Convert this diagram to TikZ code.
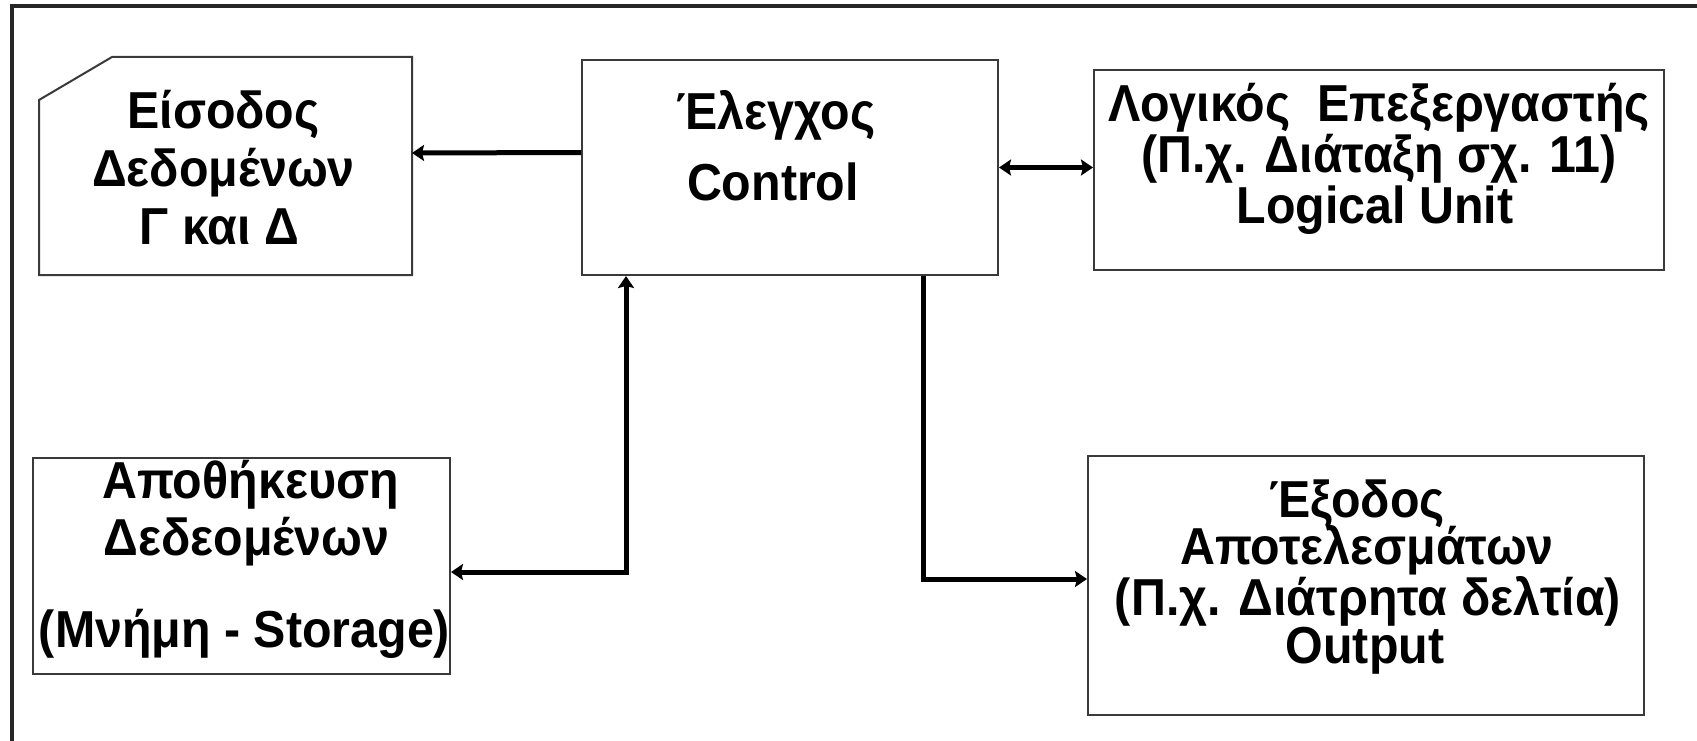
\documentclass[tikz,border=0pt]{standalone}
\usepackage{fontspec}
\setmainfont{Liberation Sans}[FakeStretch=0.93]
\usetikzlibrary{arrows.meta,calc}
\definecolor{boxgray}{HTML}{3A3A3A}
\begin{document}
\begin{tikzpicture}[x=1pt,y=-1pt,
  box/.style={draw=boxgray, line width=2pt, inner sep=0pt, anchor=north west},
  txt/.style={anchor=base, inner sep=0pt, text=black, font=\bfseries\fontsize{52}{60}\selectfont},
  tip/.tip={Stealth[length=12pt,width=16pt,inset=2pt]},
  conn/.style={line width=5pt, draw=black},
]
\useasboundingbox (0,0) rectangle (1697,741);
\fill[white] (-20,-20) rectangle (1720,760);

% outer frame (top and left rules)
\draw[line width=3.5pt, draw=black!85] (1720,6) -- (12,6) -- (12,760);

% blocks
\node[box, draw=none, minimum width=371pt, minimum height=216pt] (in) at (39,57) {};
\draw[draw=boxgray, line width=2pt]
  (in.south west) -- ([yshift=-43pt]in.north west) -- ([xshift=73pt]in.north west)
  -- (in.north east) -- (in.south east) -- cycle;
\node[box, minimum width=416pt, minimum height=215pt] (ctrl) at (581,59) {};
\node[box, minimum width=570pt, minimum height=200pt] (logic) at (1093,69) {};
\node[box, minimum width=417pt, minimum height=216pt] (store) at (32,457) {};
\node[box, minimum width=556pt, minimum height=259pt] (out) at (1087,455) {};

% input
\node[txt] (in1) at ($(in.north)+(-2,72)$) {Είσοδος};
\node[txt] (in2) at ($(in.north)+(-2,129)$) {Δεδομένων};
\node[txt] (in3) at ($(in.north)+(-6,187)$) {Γ και Δ};
% control
\node[txt] (ctrl1) at ($(ctrl.north)+(-14,71)$) {Έλεγχος};
\node[txt] (ctrl2) at ($(ctrl.north)+(-17,141)$) {Control};
% logical unit
\node[txt] (logic1) at ($(logic.north)+(0,53)$) {Λογικός \ Επεξεργαστής};
\node[txt] (logic2) at ($(logic.north)+(0,103)$) {(Π.χ. Διάταξη σχ. 11)};
\node[txt] (logic3) at ($(logic.north)+(-4,154)$) {Logical Unit};
% storage
\node[txt] (store1) at ($(store.north)+(9,41)$) {Αποθήκευση};
\node[txt] (store2) at ($(store.north)+(5,98)$) {Δεδεομένων};
\node[txt] (store3) at ($(store.north)+(3,190)$) {(Μνήμη - Storage)};
% output
\node[txt] (out1) at ($(out.north)+(-9,62)$) {Έξοδος};
\node[txt] (out2) at ($(out.north)+(1,109)$) {Αποτελεσμάτων};
\node[txt] (out3) at ($(out.north)+(2,160)$) {(Π.χ. Διάτρητα δελτία)};
\node[txt] (out4) at ($(out.north)+(-1,208)$) {Output};

% connectors
\draw[conn, -tip] ($(ctrl.west)+(0,-15)$) -- ($(in.east)+(0,-13)$);
\draw[conn, tip-tip] (ctrl.east) -- (logic.west |- ctrl.east);
\draw[conn, tip-tip] ([xshift=45pt]ctrl.south west) |- ([yshift=-6pt]store.east);
\draw[conn, -tip] ([xshift=-76pt]ctrl.south east) |- ([yshift=6.5pt]out.west);
\end{tikzpicture}
\end{document}
